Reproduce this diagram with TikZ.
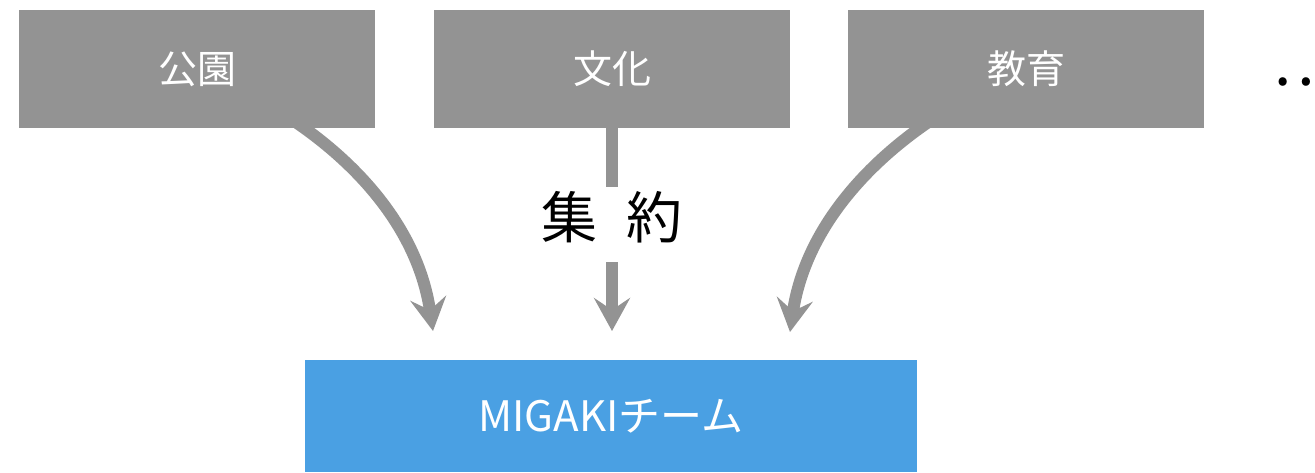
\documentclass[tikz,border=0pt]{standalone}
\usepackage{fontspec}
\setmainfont{Noto Sans CJK JP}
\usetikzlibrary{arrows.meta}
\definecolor{boxgray}{RGB}{147,147,147}
\definecolor{teamblue}{RGB}{74,160,227}
\pgfdeclarelayer{behind}
\pgfsetlayers{behind,main}
\begin{document}
\begin{tikzpicture}[x=1pt,y=-1pt,
  catbox/.style={fill=boxgray, text=white, minimum width=356pt, minimum height=118pt, inner sep=0pt, font=\fontsize{39}{47}\selectfont},
  teambox/.style={fill=teamblue, text=white, minimum width=612pt, minimum height=112pt, inner sep=0pt, font=\fontsize{42}{50}\selectfont},
  flow/.style={draw=boxgray, line width=12pt, -{Stealth[length=33pt,width=36pt,inset=12pt]}},
  gatherlabel/.style={fill=white, inner xsep=4pt, inner ysep=0pt, minimum height=75pt, text height=50pt, text depth=23pt, font=\fontsize{56}{64}\selectfont}]
\useasboundingbox (0,0) rectangle (1315,472);
% tips
\coordinate (t1) at (433,331);
\coordinate (t2) at (612,331);
\coordinate (t3) at (790,332);
% boxes
\node[catbox] (b1) at (197,69) {公園};
\node[catbox] (b2) at (612,69) {文化};
\node[catbox] (b3) at (1026,69) {教育};
\node[teambox] (team) at (611,416) {MIGAKIチーム};
% arrows
\begin{pgfonlayer}{behind}
\draw[flow] ([xshift=93pt,yshift=10pt]b1.south) .. controls (365,168) and (419,235) .. (t1);
\draw[flow] (b2.south) -- (t2);
\draw[flow] ([xshift=-92pt,yshift=10pt]b3.south) .. controls (859,168) and (804,236) .. (t3);
\end{pgfonlayer}
\node[gatherlabel] (lbl) at (612,224.5) {集\hspace{29pt}約};
\node[anchor=base west, inner sep=0pt, font=\fontsize{62}{72}\selectfont] (more) at (1272,85) {…};
\end{tikzpicture}
\end{document}
